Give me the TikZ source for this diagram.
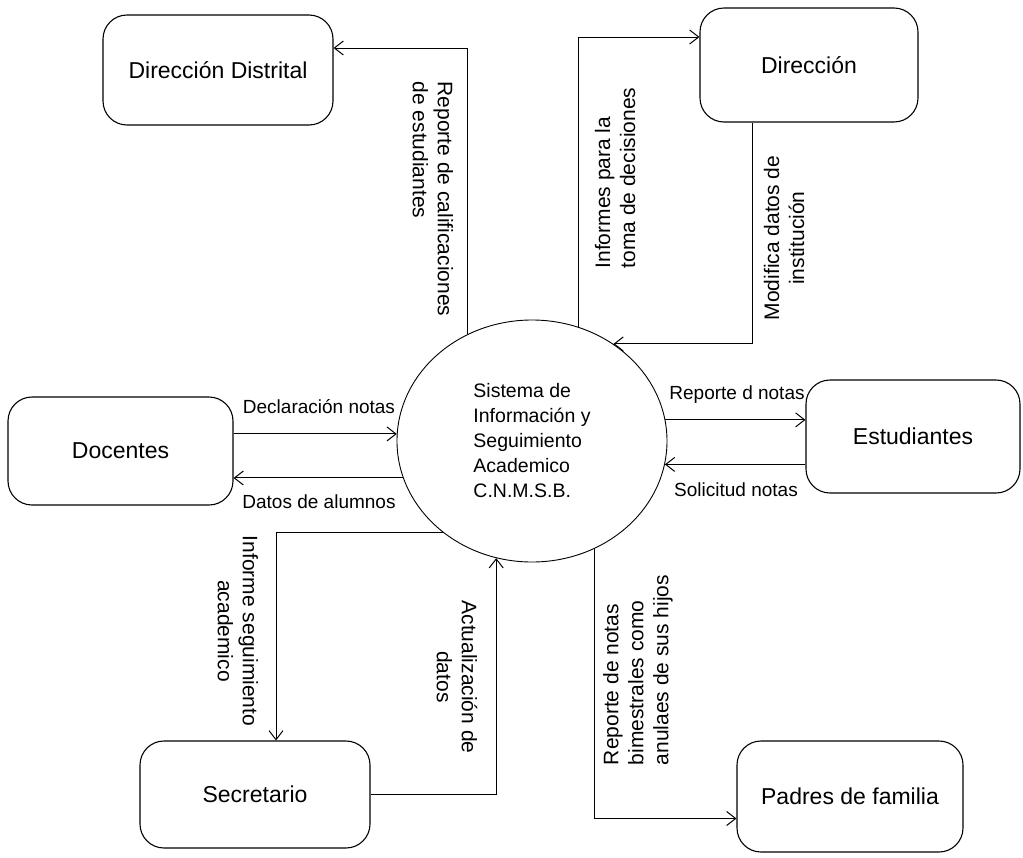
\documentclass[tikz,border=0pt]{standalone}
\usepackage{fontspec}
\setmainfont{Liberation Sans}
\usetikzlibrary{positioning, calc, arrows.meta, shapes.geometric}
\tikzset{
	arrow/.style={line width=1pt, -{Straight Barb[length=9pt, width=14pt]}},
	entidad/.style={draw, line width=1.1pt, rounded corners=24pt, inner sep=0pt, font=\fontsize{23}{28}\selectfont},
	sistema/.style={draw, ellipse, line width=0.9pt, inner sep=0pt, align=left, font=\fontsize{19.5}{25}\selectfont},
	etiqueta/.style={inner sep=0pt, font=\fontsize{19}{23}\selectfont},
	vertical/.style={inner sep=0pt, font=\fontsize{21}{25}\selectfont},
}

\begin{document}
\begin{tikzpicture}[x=1pt, y=-1pt]
			\useasboundingbox (0,0) rectangle (1023,857);
			\node[sistema, minimum width=270pt, minimum height=242pt] (sis) at (532,441) {Sistema de\\Información y\\Seguimiento\\Academico\\C.N.M.S.B.};

			\node[entidad, minimum width=230pt, minimum height=110pt] (dd)  at (218,70)    {Dirección Distrital};
			\node[entidad, minimum width=218pt, minimum height=114pt] (dir) at (809,65)    {Dirección};
			\node[entidad, minimum width=225pt, minimum height=108pt] (doc) at (120.5,451) {Docentes};
			\node[entidad, minimum width=214pt, minimum height=113pt] (est) at (913,436.5) {Estudiantes};
			\node[entidad, minimum width=230pt, minimum height=107pt] (sec) at (255,794.5) {Secretario};
			\node[entidad, minimum width=226pt, minimum height=111pt] (pad) at (850,796.5) {Padres de familia};

			\draw[arrow] (sis.121) |- ([yshift=22pt]dd.east);
			\draw[arrow] (sis.68) |- ([yshift=28pt]dir.west);
			\draw[arrow] ([xshift=-57pt]dir.south) |- (sis.50);
			\draw[arrow] (doc.east |- sis.177) -- (sis.177);
			\draw[arrow] (sis.196) -- (doc.east |- sis.196);
			\draw[arrow] (sis.9) -- (est.west |- sis.9);
			\draw[arrow] (est.west |- sis.350) -- (sis.350);
			\draw[arrow] (sis.226) -| ([xshift=21pt]sec.north);
			\draw[arrow] (sec.east) -| (sis.253);
			\draw[arrow] (sis.300) |- ([yshift=-22pt]pad.west);

			\node[etiqueta] (l1) at (319,407) {Declaración notas};
			\node[etiqueta] (l2) at (319,502) {Datos de alumnos};
			\node[etiqueta] (l3) at (737,395) {Reporte d notas};
			\node[etiqueta] (l4) at (736,490) {Solicitud notas};
			\node[vertical, rotate=-90, align=left]   (l5)  at (433,199) {Reporte de calificaciones\\de estudiantes};
			\node[vertical, rotate=90, align=left]    (l6)  at (615,178) {Informes para la\\toma de decisiones};
			\node[vertical, rotate=90, align=center]  (l7)  at (784,238) {Modifica datos de\\institución};
			\node[vertical, rotate=-90, align=center] (l8)  at (238,631) {Informe seguimiento\\academico};
			\node[vertical, rotate=-90, align=center] (l9)  at (457,677) {Actualización de\\datos};
			\node[vertical, rotate=90, align=left]    (l10) at (638,670) {Reporte de notas\\bimestrales como\\anulaes de sus hijos};
		\end{tikzpicture}
\end{document}
